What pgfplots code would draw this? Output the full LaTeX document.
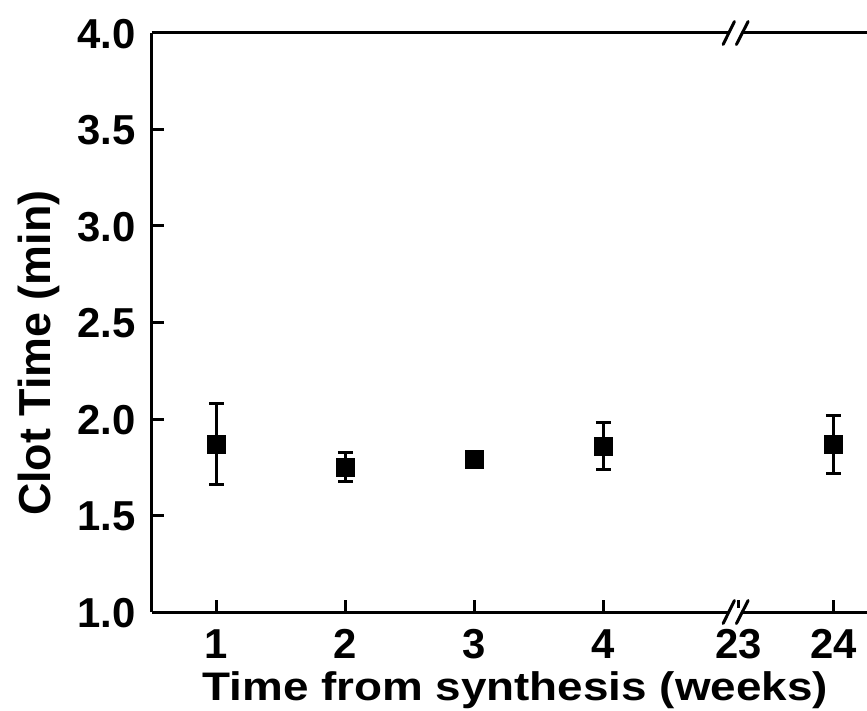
\documentclass[border=0pt]{standalone}
\usepackage{fontspec}
\setmainfont{Liberation Sans}
\newfontfamily\xlabfont{Liberation Sans}[FakeStretch=1.15]
\usepackage{pgfplots}
\usepackage{pgfplotstable}
\pgfplotsset{compat=1.18}

% week 23 and 24 sit after the axis break, at 5.05 and 5.78 on the drawn scale
\pgfplotstableread{
x     y     err
1     1.87  0.21
2     1.75  0.075
3     1.79  0.02
4     1.86  0.12
5.783 1.87  0.15
}\clotdata

\begin{document}
\begin{tikzpicture}
\begin{axis}[
  scale only axis,
  width=715bp, height=579bp,
  xmin=0.5, xmax=6.043,
  ymin=1, ymax=4,
  axis x line*=box, axis y line*=left,
  axis line style={line width=3bp, -},
  tick align=inside,
  major tick length=12bp,
  tick style={line width=3bp, black},
  xtick pos=bottom, ytick pos=left,
  xtick={1,2,3,4,5.05,5.783},
  xticklabels={1,2,3,4,23,24},
  ytick={1,1.5,2,2.5,3,3.5,4},
  /pgf/number format/.cd, fixed, fixed zerofill, precision=1, assume math mode=true,
  /pgfplots/.cd,
  yticklabel style={font=\fontsize{42}{50}\selectfont\bfseries, inner sep=0pt, anchor=east, xshift=-16bp, yshift=-1bp},
  xticklabel style={font=\fontsize{42}{50}\selectfont\bfseries, inner sep=0pt, anchor=base, yshift=-46bp},
  ylabel={Clot Time (min)},
  ylabel style={font=\fontsize{45}{54}\selectfont\bfseries, inner sep=0pt,
    at={(axis description cs:-0.187,0.447)}, anchor=north},
  xlabel={Time from synthesis (weeks)},
  xlabel style={font=\xlabfont\fontsize{40}{48}\selectfont\bfseries, inner sep=0pt,
    at={(axis description cs:0.508,0)}, anchor=base, yshift=-88bp},
  every mark/.append style={line width=3bp},
]
\addplot[only marks, mark=square*, mark size=9bp, fill=black, draw=black,
  error bars/.cd, y dir=both, y explicit,
  error bar style={line width=3bp, black},
  error mark options={rotate=90, line width=3bp, mark size=7.5bp, black}]
  table[x=x, y=y, y error=err] {\clotdata};
\coordinate (sw) at (rel axis cs:0,0);
\coordinate (ne) at (rel axis cs:1,1);
\coordinate (bt) at (axis cs:5.023,4);
\coordinate (bb) at (axis cs:5.023,1);
\end{axis}
% axis break marks
\foreach \c in {bt,bb} {
  \fill[white] ([shift={(-6.5bp,-3.5bp)}]\c) rectangle ([shift={(7bp,3.5bp)}]\c);
  \draw[line width=3bp, line cap=round] ([shift={(-12.3bp,-11.5bp)}]\c) -- ([shift={(-1bp,11.5bp)}]\c);
  \draw[line width=3bp, line cap=round] ([shift={(1bp,-11.5bp)}]\c) -- ([shift={(12.7bp,11.5bp)}]\c);
}
\pgfresetboundingbox
\path[use as bounding box] ([shift={(-152bp,-99bp)}]sw) rectangle ([shift={(0bp,33bp)}]ne);
\end{tikzpicture}
\end{document}
